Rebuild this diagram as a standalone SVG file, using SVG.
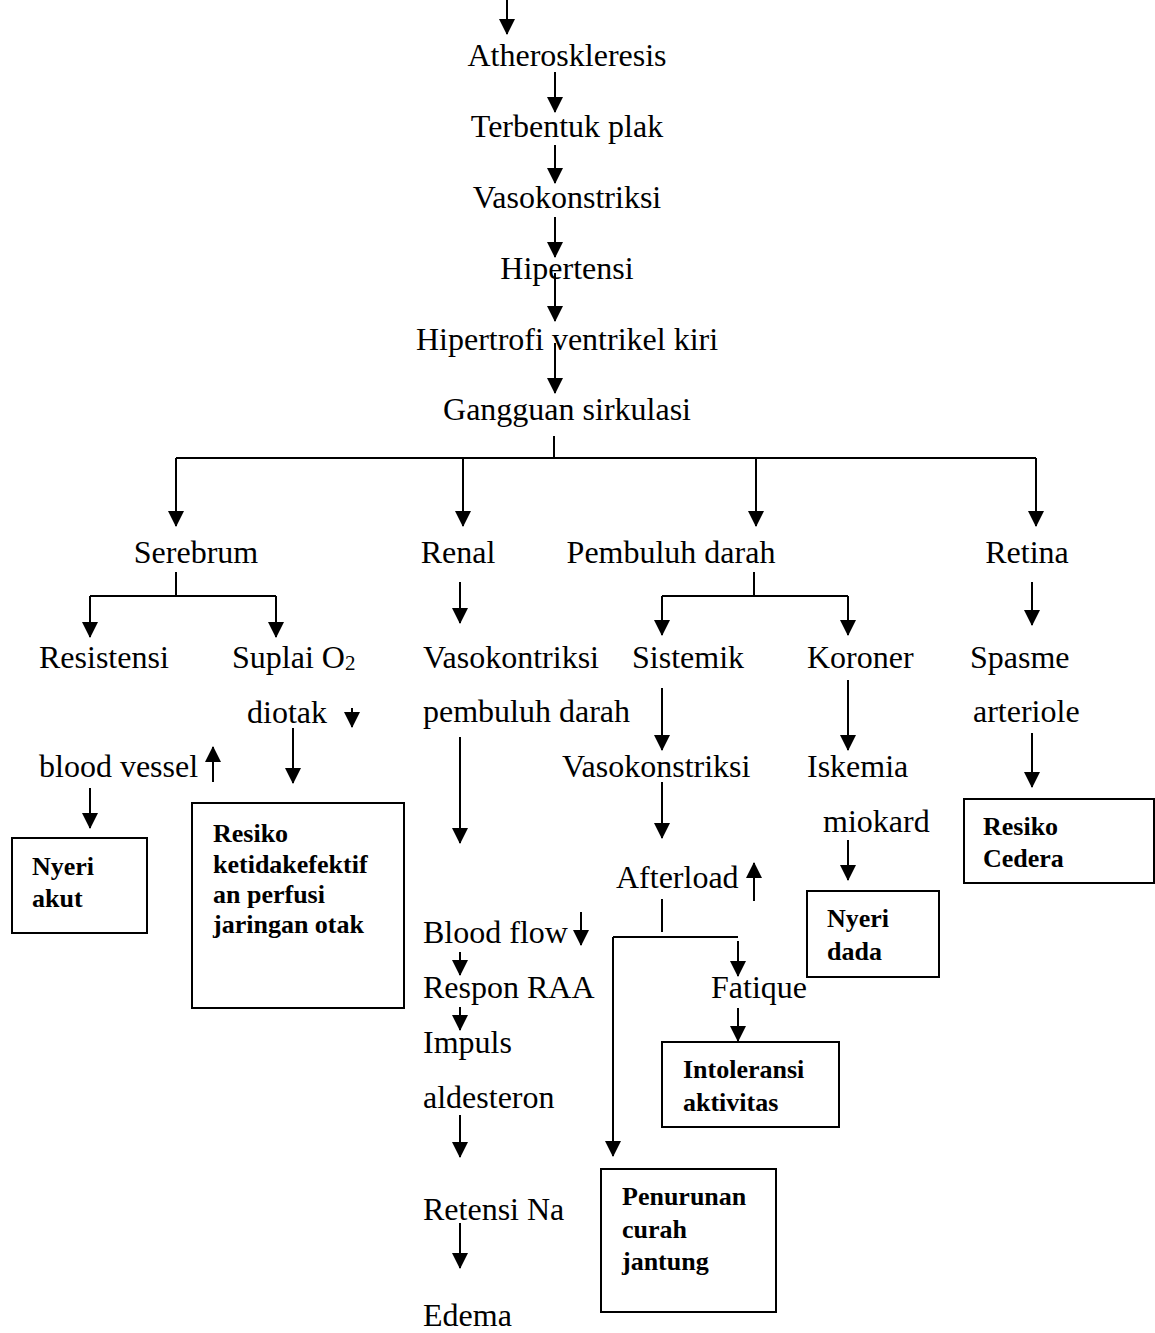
<svg xmlns="http://www.w3.org/2000/svg" width="1155" height="1333" viewBox="0 0 1155 1333">
<style>
  text { font-family: "Liberation Serif", "Times New Roman", serif; font-size: 32px; fill: #000; }
  .c { text-anchor: middle; }
  .b { font-weight: bold; font-size: 26px; }
  .ln { stroke: #000; stroke-width: 2; fill: none; }
  .arr { stroke: #000; stroke-width: 2; fill: none; marker-end: url(#ah); }
  .box { stroke: #000; stroke-width: 2; fill: #fff; }
</style>
<defs>
  <marker id="ah" markerUnits="userSpaceOnUse" markerWidth="16" markerHeight="16" viewBox="0 0 16 16" refX="15" refY="8" orient="auto">
    <path d="M0,0 L16,8 L0,16 Z" fill="#000"/>
  </marker>
</defs>
<rect width="1155" height="1333" fill="#fff"/>

<g id="connectors">
  <line class="arr" x1="507" y1="0" x2="507" y2="34"/>
  <line class="arr" x1="555" y1="72" x2="555" y2="112"/>
  <line class="arr" x1="555" y1="145" x2="555" y2="183"/>
  <line class="arr" x1="555" y1="217" x2="555" y2="257"/>
  <line class="arr" x1="555" y1="273" x2="555" y2="321"/>
  <line class="arr" x1="555" y1="343" x2="555" y2="393"/>
  <line class="ln" x1="554" y1="436" x2="554" y2="458"/>
  <line class="ln" x1="176" y1="458" x2="1036" y2="458"/>
  <line class="arr" x1="176" y1="458" x2="176" y2="526"/>
  <line class="arr" x1="463" y1="458" x2="463" y2="526"/>
  <line class="arr" x1="756" y1="458" x2="756" y2="526"/>
  <line class="arr" x1="1036" y1="458" x2="1036" y2="526"/>

  <line class="ln" x1="176" y1="572" x2="176" y2="596"/>
  <line class="ln" x1="90" y1="596" x2="276" y2="596"/>
  <line class="arr" x1="90" y1="596" x2="90" y2="637"/>
  <line class="arr" x1="276" y1="596" x2="276" y2="637"/>
  <line class="arr" x1="352" y1="708" x2="352" y2="727"/>
  <line class="arr" x1="293" y1="728" x2="293" y2="783"/>
  <line class="arr" x1="213" y1="782" x2="213" y2="747"/>
  <line class="arr" x1="90" y1="788" x2="90" y2="828"/>

  <line class="arr" x1="460" y1="582" x2="460" y2="623"/>
  <line class="arr" x1="460" y1="737" x2="460" y2="843"/>
  <line class="arr" x1="581" y1="912" x2="581" y2="945"/>
  <line class="arr" x1="460" y1="952" x2="460" y2="975"/>
  <line class="arr" x1="460" y1="1007" x2="460" y2="1030"/>
  <line class="arr" x1="460" y1="1115" x2="460" y2="1157"/>
  <line class="arr" x1="460" y1="1223" x2="460" y2="1268"/>

  <line class="ln" x1="754" y1="572" x2="754" y2="596"/>
  <line class="ln" x1="662" y1="596" x2="848" y2="596"/>
  <line class="arr" x1="662" y1="596" x2="662" y2="635"/>
  <line class="arr" x1="848" y1="596" x2="848" y2="635"/>
  <line class="arr" x1="662" y1="688" x2="662" y2="750"/>
  <line class="arr" x1="662" y1="782" x2="662" y2="838"/>
  <line class="arr" x1="754" y1="901" x2="754" y2="863"/>
  <line class="ln" x1="662" y1="899" x2="662" y2="932"/>
  <line class="ln" x1="613" y1="937" x2="738" y2="937"/>
  <line class="arr" x1="738" y1="941" x2="738" y2="976"/>
  <line class="arr" x1="613" y1="937" x2="613" y2="1156"/>
  <line class="arr" x1="738" y1="1008" x2="738" y2="1041"/>

  <line class="arr" x1="848" y1="680" x2="848" y2="750"/>
  <line class="arr" x1="848" y1="840" x2="848" y2="880"/>

  <line class="arr" x1="1032" y1="582" x2="1032" y2="625"/>
  <line class="arr" x1="1032" y1="733" x2="1032" y2="787"/>
</g>

<g id="n-atherosklerosis"><text class="c" x="567" y="66">Atheroskleresis</text></g>
<g id="n-plak"><text class="c" x="567" y="137">Terbentuk plak</text></g>
<g id="n-vasokonstriksi1"><text class="c" x="567" y="208">Vasokonstriksi</text></g>
<g id="n-hipertensi"><text class="c" x="567" y="279">Hipertensi</text></g>
<g id="n-hipertrofi"><text class="c" x="567" y="350">Hipertrofi ventrikel kiri</text></g>
<g id="n-gangguan"><text class="c" x="567" y="420">Gangguan sirkulasi</text></g>

<g id="n-serebrum"><text class="c" x="196" y="563">Serebrum</text></g>
<g id="n-renal"><text class="c" x="458" y="563">Renal</text></g>
<g id="n-pembuluh"><text class="c" x="671" y="563">Pembuluh darah</text></g>
<g id="n-retina"><text class="c" x="1027" y="563">Retina</text></g>

<g id="n-resistensi"><text x="39" y="668">Resistensi</text></g>
<g id="n-suplai"><text x="232" y="668">Suplai O<tspan font-size="21" dy="2">2</tspan></text></g>
<g id="n-diotak"><text x="247" y="723">diotak</text></g>
<g id="n-blood-vessel"><text x="39" y="777">blood vessel</text></g>

<g id="n-nyeri-akut">
  <rect class="box" x="12" y="838" width="135" height="95"/>
  <text class="b" x="32" y="875">Nyeri</text>
  <text class="b" x="32" y="907">akut</text>
</g>
<g id="n-resiko-otak">
  <rect class="box" x="192" y="803" width="212" height="205"/>
  <text class="b" x="213" y="842">Resiko</text>
  <text class="b" x="213" y="873">ketidakefektif</text>
  <text class="b" x="213" y="903">an perfusi</text>
  <text class="b" x="213" y="933">jaringan otak</text>
</g>

<g id="n-vasokontriksi-pd">
  <text x="423" y="668">Vasokontriksi</text>
  <text x="423" y="722">pembuluh darah</text>
</g>
<g id="n-blood-flow"><text x="423" y="943">Blood flow</text></g>
<g id="n-respon"><text x="423" y="998">Respon RAA</text></g>
<g id="n-impuls">
  <text x="423" y="1053">Impuls</text>
  <text x="423" y="1108">aldesteron</text>
</g>
<g id="n-retensi"><text x="423" y="1220">Retensi Na</text></g>
<g id="n-edema"><text x="423" y="1326">Edema</text></g>

<g id="n-sistemik"><text x="632" y="668">Sistemik</text></g>
<g id="n-vasokonstriksi2"><text x="562" y="777">Vasokonstriksi</text></g>
<g id="n-afterload"><text x="616" y="888">Afterload</text></g>
<g id="n-fatique"><text x="711" y="998">Fatique</text></g>
<g id="n-intoleransi">
  <rect class="box" x="662" y="1042" width="177" height="85"/>
  <text class="b" x="683" y="1078">Intoleransi</text>
  <text class="b" x="683" y="1111">aktivitas</text>
</g>
<g id="n-penurunan">
  <rect class="box" x="601" y="1169" width="175" height="143"/>
  <text class="b" x="622" y="1205">Penurunan</text>
  <text class="b" x="622" y="1238">curah</text>
  <text class="b" x="622" y="1270">jantung</text>
</g>

<g id="n-koroner"><text x="807" y="668">Koroner</text></g>
<g id="n-iskemia">
  <text x="807" y="777">Iskemia</text>
  <text x="823" y="832">miokard</text>
</g>
<g id="n-nyeri-dada">
  <rect class="box" x="807" y="891" width="132" height="86"/>
  <text class="b" x="827" y="927">Nyeri</text>
  <text class="b" x="827" y="960">dada</text>
</g>

<g id="n-spasme">
  <text x="970" y="668">Spasme</text>
  <text x="973" y="722">arteriole</text>
</g>
<g id="n-resiko-cedera">
  <rect class="box" x="964" y="799" width="190" height="84"/>
  <text class="b" x="983" y="835">Resiko</text>
  <text class="b" x="983" y="867">Cedera</text>
</g>
</svg>
